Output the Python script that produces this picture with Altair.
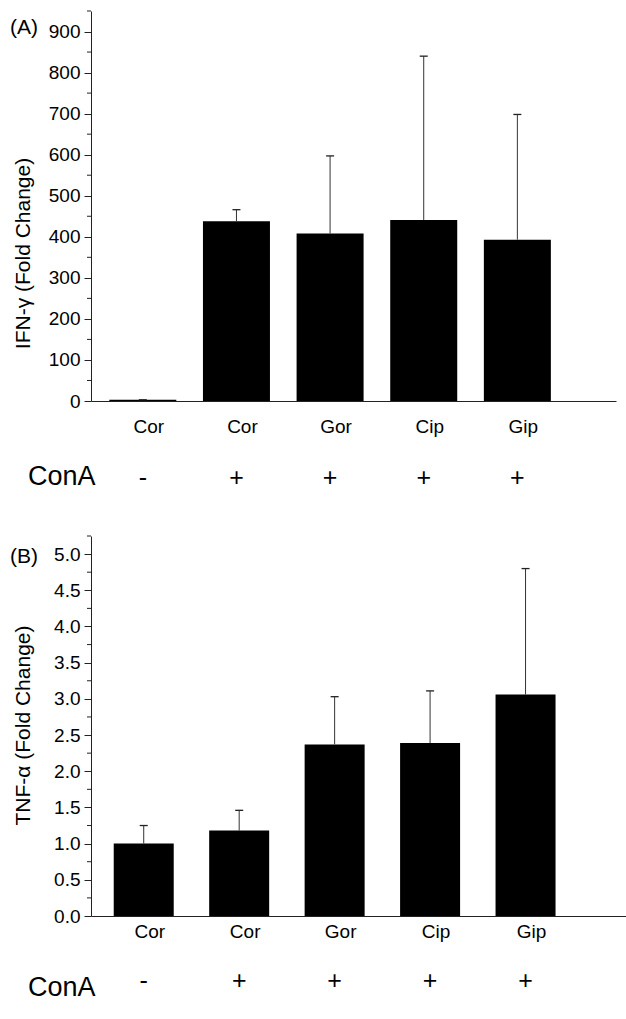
import altair as alt
import pandas as pd

# ---- data ----
groups = ["Cor", "Cor", "Gor", "Cip", "Gip"]
cona = ["-", "+", "+", "+", "+"]
ifn_mean = [3, 438, 408, 441, 393]
ifn_upper = [3, 466, 597, 840, 698]
tnf_mean = [1.00, 1.18, 2.37, 2.39, 3.06]
tnf_upper = [1.25, 1.46, 3.03, 3.11, 4.80]

ifn_major = list(range(0, 901, 100))
ifn_minor = list(range(50, 951, 100))
tnf_major = [0.0, 0.5, 1.0, 1.5, 2.0, 2.5, 3.0, 3.5, 4.0, 4.5, 5.0]
tnf_minor = [0.25, 0.75, 1.25, 1.75, 2.25, 2.75, 3.25, 3.75, 4.25, 4.75, 5.25]

FONT = "Liberation Sans"
AX = "#222222"


def panel(mean, upper, major, minor, ymax, fmt, title, tag, width, height,
          barw, title_y, lab_y, sign_y, cona_y, tag_y):
    df = pd.DataFrame({
        "idx": list(range(1, len(groups) + 1)),
        "group": groups,
        "cona": cona,
        "mean": mean,
        "upper": upper,
    })
    xs = alt.Scale(domain=[0.5, 6.0], nice=False, zero=False)
    ys = alt.Scale(domain=[0, ymax], nice=False)
    xaxis = alt.Axis(labels=False, ticks=False, title=None, grid=False,
                     domainColor=AX, domainWidth=1)
    yaxis = alt.Axis(values=major, format=fmt, tickSize=7, tickColor=AX,
                     domainColor=AX, labelFontSize=19, labelFont=FONT,
                     labelColor="black", labelPadding=4, labelOverlap=False,
                     labelBound=False, labelFlush=False,
                     grid=False, title=title,
                     titleFont=FONT, titleFontSize=21, titleFontWeight="normal",
                     titleColor="black", titleX=-62, titleY=title_y,
                     titleBaseline="alphabetic", titleAngle=270)

    def X(f):
        return alt.X(f, scale=xs, axis=xaxis)

    def Y(f):
        return alt.Y(f, scale=ys, axis=yaxis)

    base = alt.Chart(df)
    bars = base.mark_bar(color="black", width=barw).encode(
        x=X("idx:Q"), y=Y("mean:Q"))
    stems = base.mark_rule(color="#333333", strokeWidth=1).encode(
        x=X("idx:Q"), y=Y("mean:Q"), y2="upper:Q")
    caps = base.mark_rule(color="#222222", strokeWidth=1.3,
                          xOffset=-4, x2Offset=4).encode(
        x=X("idx:Q"), x2="idx:Q", y=Y("upper:Q"))
    minor_ticks = alt.Chart(pd.DataFrame({"v": minor})).mark_rule(
        color=AX, strokeWidth=1).encode(
        y=Y("v:Q"), x=alt.value(-4), x2=alt.value(0))
    labels = base.mark_text(fontSize=19, font=FONT, dx=6,
                            baseline="alphabetic", color="black").encode(
        x=X("idx:Q"), y=alt.value(lab_y), text="group:N")
    signs = base.mark_text(fontSize=25, font=FONT, baseline="middle",
                           color="black").encode(
        x=X("idx:Q"), y=alt.value(sign_y), text="cona:N")
    cona_lbl = alt.Chart(pd.DataFrame({"t": ["ConA"]})).mark_text(
        fontSize=27, font=FONT, align="left", baseline="alphabetic",
        color="black").encode(x=alt.value(-63), y=alt.value(cona_y), text="t:N")
    tag_lbl = alt.Chart(pd.DataFrame({"t": [tag]})).mark_text(
        fontSize=21, font=FONT, align="left", baseline="middle",
        color="black").encode(x=alt.value(-81), y=alt.value(tag_y), text="t:N")
    return alt.layer(bars, stems, caps, minor_ticks, labels, signs,
                     cona_lbl, tag_lbl).properties(width=width, height=height)


pa = panel(ifn_mean, ifn_upper, ifn_major, ifn_minor, 950, "d",
           "IFN-γ (Fold Change)", "(A)", 525, 390, 67,
           242, 422, 467, 474, 17)
pb = panel(tnf_mean, tnf_upper, tnf_major, tnf_minor, 5.25, ".1f",
           "TNF-α (Fold Change)", "(B)", 535, 380, 60,
           189, 402, 445, 460, 21)

chart = alt.vconcat(pa, pb, spacing=135, bounds="flush").properties(
    padding={"left": 10, "top": 10, "right": 0, "bottom": 5}
).configure(background="white", view=alt.ViewConfig(stroke=None))

chart.save("out.html", embed_options={"renderer": "svg", "actions": False})
